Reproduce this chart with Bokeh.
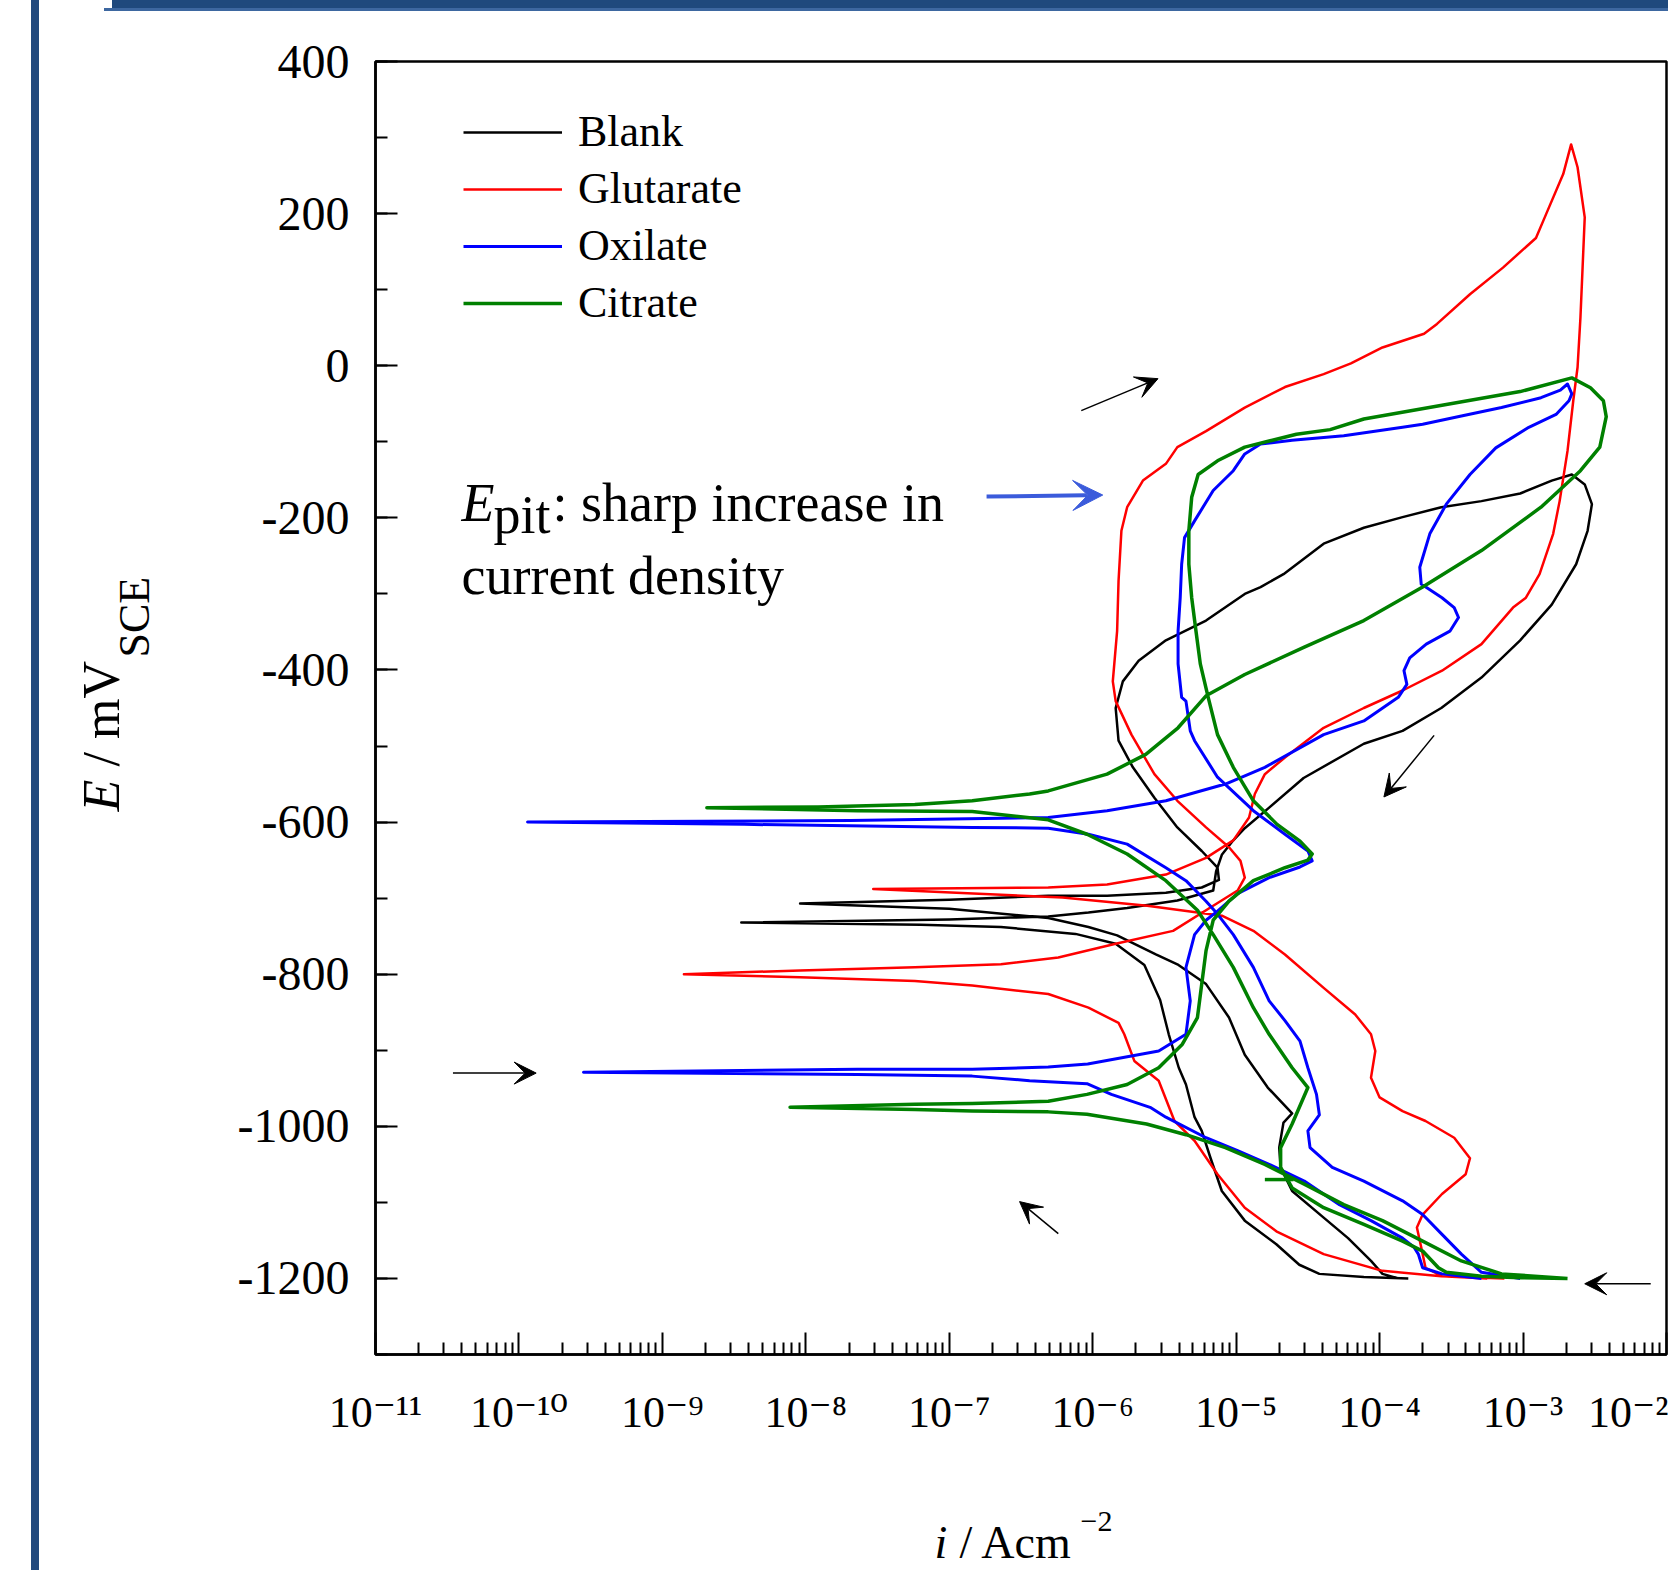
import math
from bokeh.plotting import figure
from bokeh.models import (Range1d, FixedTicker, CustomJSTickFormatter, Label, Arrow,
                          VeeHead, Legend, LegendItem)
from bokeh.embed import file_html
from bokeh.resources import INLINE

# ---------------- data (log10 of current density [A/cm2], potential [mV vs SCE]) -------------
SERIES_NAMES = ["Blank", "Glutarate", "Oxilate", "Citrate"]
SERIES_COLORS = ["#000000", "#FF0000", "#0000FF", "#008000"]
SERIES_WIDTHS = [2.5, 2.5, 3.0, 3.5]

BLANK_POINTS = [
    (-3.87, -1200), (-3.98, -1194), (-4.06, -1177), (-4.22, -1147), (-4.39, -1120),
    (-4.61, -1085), (-4.69, -1054), (-4.70, -1028), (-4.67, -995), (-4.61, -983),
    (-4.78, -949), (-4.94, -906), (-5.05, -857), (-5.21, -813), (-5.41, -787),
    (-5.56, -774), (-5.83, -749), (-6.03, -738), (-6.31, -726), (-7.00, -714),
    (-8.04, -707),
    (-7.00, -702), (-6.31, -697), (-5.90, -697), (-5.49, -693), (-5.24, -686),
    (-5.12, -676), (-5.13, -660), (-5.24, -638), (-5.41, -607), (-5.57, -568),
    (-5.72, -528), (-5.82, -493), (-5.84, -450), (-5.79, -415), (-5.68, -388),
    (-5.49, -361), (-5.21, -335), (-4.94, -300), (-4.83, -291), (-4.67, -274),
    (-4.39, -234), (-4.11, -213), (-3.84, -199), (-3.57, -186), (-3.29, -178),
    (-3.02, -168), (-2.80, -151), (-2.66, -143),
    (-2.57, -156), (-2.52, -182), (-2.55, -217), (-2.63, -261), (-2.80, -314),
    (-3.02, -361), (-3.29, -410), (-3.57, -450), (-3.84, -480), (-4.11, -497),
    (-4.53, -542), (-4.77, -581), (-4.94, -608), (-5.02, -624), (-5.10, -643),
    (-5.14, -665), (-5.16, -690), (-5.41, -703), (-5.76, -713), (-6.03, -719),
    (-6.31, -724), (-7.00, -728), (-8.45, -732),
    (-7.20, -735), (-6.64, -738), (-6.12, -747), (-5.84, -760), (-5.64, -788),
    (-5.53, -834), (-5.47, -879), (-5.40, -923), (-5.35, -945), (-5.29, -988),
    (-5.24, -1006), (-5.18, -1041), (-5.10, -1085), (-4.94, -1124), (-4.72, -1155),
    (-4.56, -1182), (-4.42, -1194), (-4.11, -1198), (-3.80, -1200),
]

GLUTARATE_POINTS = [
    (-3.13, -1200), (-3.57, -1197), (-3.98, -1190), (-4.39, -1168), (-4.72, -1138),
    (-4.94, -1107), (-5.13, -1063), (-5.29, -1019), (-5.43, -993), (-5.54, -940),
    (-5.71, -914), (-5.78, -879), (-5.82, -864), (-6.03, -844), (-6.31, -826),
    (-6.84, -815), (-7.24, -809), (-8.04, -804), (-8.85, -800),
    (-8.04, -795), (-7.24, -791), (-6.64, -787), (-6.24, -778), (-5.84, -760),
    (-5.44, -743), (-5.16, -710), (-4.99, -690), (-4.94, -673), (-4.97, -651),
    (-5.05, -633), (-5.21, -607), (-5.41, -572), (-5.57, -537), (-5.73, -485),
    (-5.84, -441), (-5.86, -415), (-5.83, -349), (-5.82, -283), (-5.80, -217),
    (-5.76, -186), (-5.65, -151), (-5.49, -129), (-5.41, -107), (-5.21, -86),
    (-4.94, -55), (-4.66, -28), (-4.39, -11), (-4.20, 3), (-3.98, 24),
    (-3.69, 42), (-3.60, 55), (-3.37, 94), (-3.14, 129), (-2.91, 168),
    (-2.84, 199), (-2.72, 252), (-2.665, 291),
    (-2.62, 261), (-2.57, 195), (-2.585, 129), (-2.60, 63), (-2.62, -2),
    (-2.65, -46), (-2.69, -112), (-2.745, -178), (-2.79, -221), (-2.885, -274),
    (-2.98, -305), (-3.07, -318), (-3.29, -366), (-3.565, -401), (-3.84, -427),
    (-4.11, -450), (-4.39, -476), (-4.66, -515), (-4.80, -537), (-4.87, -563),
    (-4.91, -594), (-5.02, -624), (-5.21, -647), (-5.49, -669), (-5.90, -682),
    (-6.31, -686), (-7.53, -688),
    (-6.95, -693), (-6.21, -699), (-5.62, -710), (-5.10, -723), (-4.88, -743),
    (-4.66, -774), (-4.39, -818), (-4.17, -853), (-4.06, -879), (-4.03, -901),
    (-4.06, -936), (-4.00, -962), (-3.84, -980), (-3.68, -993), (-3.48, -1015),
    (-3.37, -1042), (-3.40, -1063), (-3.565, -1089), (-3.70, -1116), (-3.74, -1133),
    (-3.71, -1159), (-3.68, -1186), (-3.565, -1197), (-3.25, -1200),
]

OXILATE_POINTS = [
    (-3.29, -1200), (-3.565, -1194), (-3.70, -1186), (-3.73, -1168), (-3.76, -1159),
    (-3.84, -1147), (-4.06, -1124), (-4.28, -1103), (-4.525, -1072), (-4.77, -1050),
    (-4.99, -1032), (-5.21, -1015), (-5.49, -988), (-5.60, -975), (-5.87, -958),
    (-6.04, -944), (-6.44, -940), (-6.84, -934), (-7.64, -932), (-9.55, -929),
    (-7.64, -925), (-6.84, -925), (-6.31, -922), (-6.035, -918), (-5.54, -901),
    (-5.35, -879), (-5.32, -835), (-5.35, -791), (-5.29, -748), (-5.21, -729),
    (-5.13, -717), (-4.99, -694), (-4.77, -673), (-4.555, -659), (-4.47, -651),
    (-4.50, -638), (-4.66, -616), (-4.88, -585), (-5.13, -541), (-5.29, -493),
    (-5.32, -480), (-5.35, -441), (-5.38, -436), (-5.405, -392), (-5.405, -349),
    (-5.39, -305), (-5.38, -261), (-5.36, -226), (-5.29, -204), (-5.16, -164),
    (-5.02, -138), (-4.94, -116), (-4.83, -103), (-4.61, -98), (-4.25, -92),
    (-3.84, -81), (-3.70, -77), (-3.43, -66), (-3.15, -55), (-2.875, -42),
    (-2.74, -32), (-2.69, -24), (-2.66, -37), (-2.68, -46),
    (-2.77, -64), (-2.96, -81), (-3.19, -108), (-3.37, -143), (-3.535, -182),
    (-3.65, -221), (-3.72, -265), (-3.71, -287), (-3.565, -305), (-3.48, -318),
    (-3.45, -331), (-3.51, -349), (-3.675, -366), (-3.79, -384), (-3.83, -401),
    (-3.81, -419), (-3.87, -436), (-4.11, -467), (-4.39, -485), (-4.80, -528),
    (-5.075, -550), (-5.49, -572), (-5.90, -585), (-6.31, -594), (-7.69, -598),
    (-9.94, -600),
    (-8.43, -603), (-6.84, -607), (-6.31, -608), (-6.03, -616), (-5.76, -629),
    (-5.49, -660), (-5.35, -677), (-5.21, -704), (-5.13, -721), (-5.02, -748),
    (-4.88, -791), (-4.77, -835), (-4.66, -861), (-4.555, -888), (-4.50, -923),
    (-4.44, -958), (-4.42, -985), (-4.50, -1006), (-4.485, -1028), (-4.33, -1054),
    (-4.11, -1072), (-3.84, -1098), (-3.70, -1116), (-3.565, -1142), (-3.43, -1168),
    (-3.29, -1192), (-3.02, -1200),
]

CITRATE_POINTS = [
    (-2.69, -1200), (-3.15, -1194), (-3.43, -1177), (-3.70, -1151), (-3.98, -1124),
    (-4.25, -1103), (-4.525, -1076), (-4.80, -1050), (-5.075, -1028), (-5.35, -1011),
    (-5.625, -997), (-6.04, -984), (-6.31, -981), (-6.84, -980), (-7.24, -978),
    (-8.11, -975),
    (-7.24, -971), (-6.84, -970), (-6.31, -967), (-6.04, -958), (-5.76, -945),
    (-5.54, -923), (-5.375, -892), (-5.27, -857), (-5.24, -813), (-5.21, -769),
    (-5.16, -729), (-5.05, -704), (-4.88, -677), (-4.66, -660), (-4.50, -650),
    (-4.47, -642), (-4.555, -625), (-4.715, -603), (-4.88, -572), (-5.02, -528),
    (-5.13, -485), (-5.195, -436), (-5.25, -392), (-5.28, -349), (-5.31, -305),
    (-5.33, -261), (-5.33, -217), (-5.31, -173), (-5.265, -143), (-5.13, -125),
    (-4.94, -107), (-4.77, -99), (-4.58, -90), (-4.345, -84), (-4.11, -70),
    (-3.565, -52), (-3.02, -34), (-2.66, -16),
    (-2.53, -29), (-2.44, -46), (-2.42, -67), (-2.465, -107), (-2.60, -138),
    (-2.875, -186), (-3.29, -243), (-3.70, -291), (-4.11, -335), (-4.525, -370),
    (-4.94, -406), (-5.21, -434), (-5.405, -476), (-5.63, -511), (-5.90, -537),
    (-6.31, -559), (-6.44, -563), (-6.84, -572), (-7.24, -577), (-7.915, -580),
    (-8.69, -581),
    (-7.64, -585), (-6.84, -586), (-6.31, -597), (-6.04, -616), (-5.76, -642),
    (-5.49, -677), (-5.27, -716), (-5.16, -748), (-5.02, -791), (-4.88, -844),
    (-4.77, -879), (-4.61, -923), (-4.50, -949), (-4.61, -997), (-4.69, -1028),
    (-4.69, -1054), (-4.61, -1081), (-4.39, -1107), (-4.11, -1129), (-3.84, -1151),
    (-3.70, -1164), (-3.59, -1186), (-3.535, -1192), (-3.29, -1197), (-3.02, -1199),
    (-2.69, -1200),
]

CITRATE_STUB = [(-4.80, -1070), (-4.60, -1070)]

# scan-direction arrows: (log i start, E start, log i end, E end)
BLACK_ARROWS = [
    (-6.08, -59, -5.545, -17),
    (-3.62, -486, -3.97, -567),
    (-10.46, -930, -9.88, -930),
    (-6.24, -1141, -6.51, -1099),
    (-2.11, -1207, -2.57, -1207),
]
BLUE_ARROW = (-6.74, -172, -5.93, -170)

ANNOT_POS = (-10.40, -180)      # E_pit text, first line baseline
ANNOT_POS2 = (-10.40, -277)     # second line baseline

X_TICKS_EXP = list(range(-11, -1))
Y_TICKS = list(range(-1200, 401, 200))
Y_MINOR = list(range(-1300, 401, 100))

FONT = "Liberation Serif"
TICK_FONT = "Liberation Serif, DejaVu Serif"

# ---------------- figure ----------------
p = figure(width=1668, height=1570, x_axis_type="log",
           x_range=Range1d(10.0 ** -11, 10.0 ** -2), y_range=Range1d(-1300, 400),
           output_backend="svg", toolbar_location=None,
           min_border_left=375, min_border_right=2, min_border_top=61, min_border_bottom=216)
p.grid.visible = False
p.outline_line_color = "black"
p.outline_line_width = 2.5
p.background_fill_color = "white"
p.border_fill_alpha = 0
# slide frame decoration (dark blue bars) painted behind the transparent border area
p.styles = {"background": (
    "linear-gradient(#1F497D, #1F497D) 112px 0px / 1556px 8px no-repeat, "
    "linear-gradient(#3D67A0, #3D67A0) 104px 8px / 1564px 3px no-repeat, "
    "linear-gradient(#22497D, #22497D) 31px 0px / 8px 100% no-repeat, #FFFFFF")}

p.xaxis.ticker = FixedTicker(ticks=[10.0 ** k for k in X_TICKS_EXP],
                             minor_ticks=[m * 10.0 ** k for k in X_TICKS_EXP[:-1] for m in range(2, 10)])
p.xaxis.formatter = CustomJSTickFormatter(code="""
const sup = {"-": "⁻", "0": "⁰", "1": "¹", "2": "²", "3": "³", "4": "⁴",
             "5": "⁵", "6": "⁶", "7": "⁷", "8": "⁸", "9": "⁹"};
const e = Math.round(Math.log10(tick));
return "10" + String(e).split("").map(c => sup[c]).join("");
""")
p.yaxis.ticker = FixedTicker(ticks=Y_TICKS, minor_ticks=Y_MINOR)
p.yaxis.formatter = CustomJSTickFormatter(code="return tick.toFixed(0);")

for ax in (p.xaxis[0], p.yaxis[0]):
    ax.axis_line_width = 2.5
    ax.axis_line_color = "black"
    ax.major_tick_in = 22
    ax.major_tick_out = 0
    ax.minor_tick_in = 12
    ax.minor_tick_out = 0
    ax.major_tick_line_width = 2
    ax.minor_tick_line_width = 2
    ax.major_label_text_color = "black"
p.yaxis.major_label_text_font = FONT
p.yaxis.major_label_text_font_size = "48px"
p.yaxis.major_label_standoff = 26
p.xaxis.major_label_text_font = TICK_FONT
p.xaxis.major_label_text_font_size = "44px"
p.xaxis.major_label_standoff = 33

# ---------------- curves ----------------
renderers = []
for pts, col, lw in zip([BLANK_POINTS, GLUTARATE_POINTS, OXILATE_POINTS, CITRATE_POINTS],
                        SERIES_COLORS, SERIES_WIDTHS):
    xs = [10.0 ** a for a, _ in pts]
    ys = [b for _, b in pts]
    r = p.line(xs, ys, line_color=col, line_width=lw, line_join="round")
    renderers.append(r)
p.line([10.0 ** a for a, _ in CITRATE_STUB], [b for _, b in CITRATE_STUB],
       line_color=SERIES_COLORS[3], line_width=SERIES_WIDTHS[3])

legend = Legend(items=[LegendItem(label=n, renderers=[r]) for n, r in zip(SERIES_NAMES, renderers)],
                location=(88, 1026), glyph_width=99, glyph_height=40, label_height=40,
                label_standoff=16, spacing=6, padding=0, margin=0,
                label_text_font=FONT, label_text_font_size="44px", label_text_color="black",
                border_line_alpha=0, background_fill_alpha=0)
p.add_layout(legend)

# ---------------- arrows ----------------
for x0, y0, x1, y1 in BLACK_ARROWS:
    p.add_layout(Arrow(x_start=10.0 ** x0, y_start=y0, x_end=10.0 ** x1, y_end=y1,
                       line_color="black", line_width=1.5,
                       end=VeeHead(size=22, fill_color="black", line_color="black", line_width=1)))
bx0, by0, bx1, by1 = BLUE_ARROW
p.add_layout(Arrow(x_start=10.0 ** bx0, y_start=by0, x_end=10.0 ** bx1, y_end=by1,
                   line_color="#3B5BDB", line_width=4,
                   end=VeeHead(size=30, fill_color="#3B5BDB", line_color="#3B5BDB", line_width=1)))

# ---------------- E_pit annotation ----------------
ax0, ay0 = ANNOT_POS
p.add_layout(Label(x=10.0 ** ax0, y=ay0, text="E", text_font=FONT, text_font_style="italic",
                   text_font_size="54px", text_color="black",
                   text_baseline="alphabetic", text_align="left"))
p.add_layout(Label(x=10.0 ** ax0, y=ay0, x_offset=32, y_offset=-12, text="pit", text_font=FONT,
                   text_font_size="54px", text_color="black",
                   text_baseline="alphabetic", text_align="left"))
p.add_layout(Label(x=10.0 ** ax0, y=ay0, x_offset=91, text=": sharp increase in", text_font=FONT,
                   text_font_size="54px", text_color="black",
                   text_baseline="alphabetic", text_align="left"))
ax2, ay2 = ANNOT_POS2
p.add_layout(Label(x=10.0 ** ax2, y=ay2, text="current density", text_font=FONT,
                   text_font_size="54px", text_color="black",
                   text_baseline="alphabetic", text_align="left"))

# ---------------- axis titles (rich text pieces, placed in side panels) ----------------
def canvas_label(text, x, y, size, italic=False, angle=0.0):
    return Label(x=x, y=y, x_units="canvas", y_units="canvas", angle=angle,
                 text=text, text_font=FONT, text_font_style="italic" if italic else "normal",
                 text_font_size=size, text_color="black",
                 text_baseline="alphabetic", text_align="left")

p.add_layout(canvas_label("E", 101, 811, "52px", italic=True, angle=math.pi / 2), "left")
p.add_layout(canvas_label("/ mV", 101, 766, "52px", angle=math.pi / 2), "left")
p.add_layout(canvas_label("SCE", 134, 657, "44px", angle=math.pi / 2), "left")

p.add_layout(canvas_label("i", 934, 1542, "46px", italic=True), "above")
p.add_layout(canvas_label("/ Acm", 959, 1542, "46px"), "below")
p.add_layout(canvas_label("\u22122", 1080, 1521, "30px"), "below")

open("out.html", "w").write(file_html(p, INLINE))
